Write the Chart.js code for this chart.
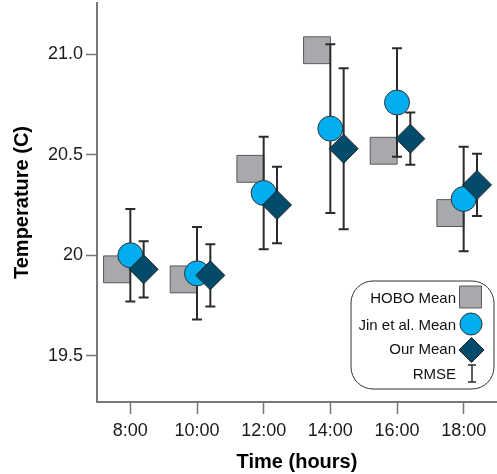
<!DOCTYPE html>
<html>
<head>
<meta charset="utf-8">
<script src="https://cdn.jsdelivr.net/npm/chart.js@4.4.0/dist/chart.umd.min.js"></script>
<style>
  html, body { margin: 0; padding: 0; background: #fff; }
</style>
</head>
<body>
<canvas id="chart" width="497" height="474"></canvas>
<script>
// data
var hours = [8, 10, 12, 14, 16, 18];
var hoboMean = [19.93, 19.88, 20.43, 21.02, 20.52, 20.21];
var jinMean = [20.00, 19.91, 20.31, 20.63, 20.76, 20.28];
var ourMean = [19.93, 19.90, 20.25, 20.53, 20.58, 20.35];
var jinRmse = [0.23, 0.23, 0.28, 0.42, 0.27, 0.26];
var ourRmse = [0.14, 0.155, 0.19, 0.40, 0.13, 0.155];
var yTicks = [19.5, 20, 20.5, 21];
var yTickLabels = ['19.5', '20', '20.5', '21.0'];
var legendLabels = ['HOBO Mean', 'Jin et al. Mean', 'Our Mean', 'RMSE'];

var shift = 0.4; // groups are spread around the hour
var FONT = "'Liberation Sans', Arial, sans-serif";
var gray = '#a7a9ac', cyan = '#00aeef', navy = '#034b6a';

function pts(vals, dx) {
    return hours.map(function(h, i) { return {x: h + dx, y: vals[i]}; });
}

// error bars go above the squares but under circles/diamonds
var errorBars = {
    id: 'errorBars',
    beforeDatasetDraw: function(chart, args) {
        if (args.index !== 1) return;
        var ctx = chart.ctx, xs = chart.scales.x, ys = chart.scales.y;
        ctx.save();
        ctx.strokeStyle = '#2b2b2b';
        ctx.lineWidth = 2;
        [[jinMean, jinRmse, 0], [ourMean, ourRmse, shift]].forEach(function(s) {
            hours.forEach(function(h, i) {
                var x = xs.getPixelForValue(h + s[2]);
                var top = ys.getPixelForValue(s[0][i] + s[1][i]);
                var bot = ys.getPixelForValue(s[0][i] - s[1][i]);
                ctx.beginPath();
                ctx.moveTo(x, top); ctx.lineTo(x, bot);
                ctx.moveTo(x - 5, top); ctx.lineTo(x + 5, top);
                ctx.moveTo(x - 5, bot); ctx.lineTo(x + 5, bot);
                ctx.stroke();
            });
        });
        ctx.restore();
    }
};

// rounded legend box in the lower right
var legendBox = {
    id: 'legendBox',
    afterDraw: function(chart) {
        var ctx = chart.ctx;
        var bx = 351, by = 281, bw = 143, bh = 108, r = 22;
        ctx.save();
        ctx.beginPath();
        ctx.moveTo(bx + r, by);
        ctx.arcTo(bx + bw, by, bx + bw, by + bh, r);
        ctx.arcTo(bx + bw, by + bh, bx, by + bh, r);
        ctx.arcTo(bx, by + bh, bx, by, r);
        ctx.arcTo(bx, by, bx + bw, by, r);
        ctx.closePath();
        ctx.fillStyle = '#fff';
        ctx.fill();
        ctx.strokeStyle = '#333';
        ctx.lineWidth = 1;
        ctx.stroke();

        var rows = [298, 325, 349, 374];
        ctx.font = '15px ' + FONT;
        ctx.fillStyle = '#111';
        ctx.textAlign = 'right';
        ctx.textBaseline = 'middle';
        legendLabels.forEach(function(t, i) { ctx.fillText(t, 456, rows[i] + 1); });

        var H = Chart.helpers;
        ctx.lineWidth = 1;
        ctx.fillStyle = gray; ctx.strokeStyle = '#58595b';
        H.drawPoint(ctx, {pointStyle: 'rect', radius: 15.5, rotation: 0, borderWidth: 1}, 470.5, 297);
        ctx.fillStyle = cyan; ctx.strokeStyle = '#333';
        H.drawPoint(ctx, {pointStyle: 'circle', radius: 11, rotation: 0, borderWidth: 1}, 471, 324);
        ctx.fillStyle = navy; ctx.strokeStyle = '#222';
        H.drawPoint(ctx, {pointStyle: 'rectRot', radius: 12.5, rotation: 0, borderWidth: 1}, 471.5, 350);

        ctx.strokeStyle = '#2b2b2b';
        ctx.lineWidth = 1.5;
        ctx.beginPath();
        ctx.moveTo(472, 365); ctx.lineTo(472, 382);
        ctx.moveTo(468, 365); ctx.lineTo(476, 365);
        ctx.moveTo(468, 382); ctx.lineTo(476, 382);
        ctx.stroke();
        ctx.restore();
    }
};

new Chart(document.getElementById('chart'), {
    type: 'scatter',
    data: {
        datasets: [
            {
                label: legendLabels[0], data: pts(hoboMean, -shift), order: 2,
                pointStyle: 'rect', pointRadius: 19, backgroundColor: gray,
                borderColor: '#58595b', borderWidth: 1
            },
            {
                label: legendLabels[1], data: pts(jinMean, 0), order: 1,
                pointStyle: 'circle', pointRadius: 12.5, backgroundColor: cyan,
                borderColor: '#333', borderWidth: 1
            },
            {
                label: legendLabels[2], data: pts(ourMean, shift), order: 0,
                pointStyle: 'rectRot', pointRadius: 14.5, backgroundColor: navy,
                borderColor: '#222', borderWidth: 1
            }
        ]
    },
    options: {
        responsive: false,
        animation: false,
        devicePixelRatio: 1,
        layout: {autoPadding: false, padding: {top: 3, right: 0, left: 0, bottom: 0}},
        plugins: {legend: {display: false}, tooltip: {enabled: false}},
        elements: {point: {hoverRadius: 0}},
        scales: {
            x: {
                type: 'linear', min: 7, max: 19,
                afterBuildTicks: function(s) { s.ticks = hours.map(function(v) { return {value: v}; }); },
                afterFit: function(s) { s.height = 72; },
                ticks: {
                    callback: function(v) { return v + ':00'; },
                    font: {family: FONT, size: 18}, color: '#1a1a1a',
                    padding: 6, maxRotation: 0, autoSkip: false
                },
                grid: {drawOnChartArea: false, tickLength: 12, tickColor: '#777', tickWidth: 1.5},
                border: {color: '#777', width: 2},
                title: {
                    display: true, text: 'Time (hours)', color: '#000',
                    font: {family: FONT, size: 20, weight: 'bold'},
                    padding: {top: 0, bottom: 0}
                }
            },
            y: {
                min: 19.27, max: 21.255,
                afterBuildTicks: function(s) { s.ticks = yTicks.map(function(v) { return {value: v}; }); },
                // drop the half-label padding so the axis runs to the top edge
                afterFit: function(s) { s.width = 97; s.paddingTop = 0; s.paddingBottom = 0; },
                ticks: {
                    callback: function(v) { return yTickLabels[yTicks.indexOf(v)]; },
                    font: {family: FONT, size: 18}, color: '#1a1a1a', padding: 3
                },
                grid: {drawOnChartArea: false, tickLength: 11, tickColor: '#777', tickWidth: 1.5},
                border: {color: '#777', width: 2},
                title: {
                    display: true, text: 'Temperature (C)', color: '#000',
                    font: {family: FONT, size: 20, weight: 'bold'},
                    padding: {top: 10, bottom: 0}
                }
            }
        }
    },
    plugins: [errorBars, legendBox]
});
</script>
</body>
</html>
